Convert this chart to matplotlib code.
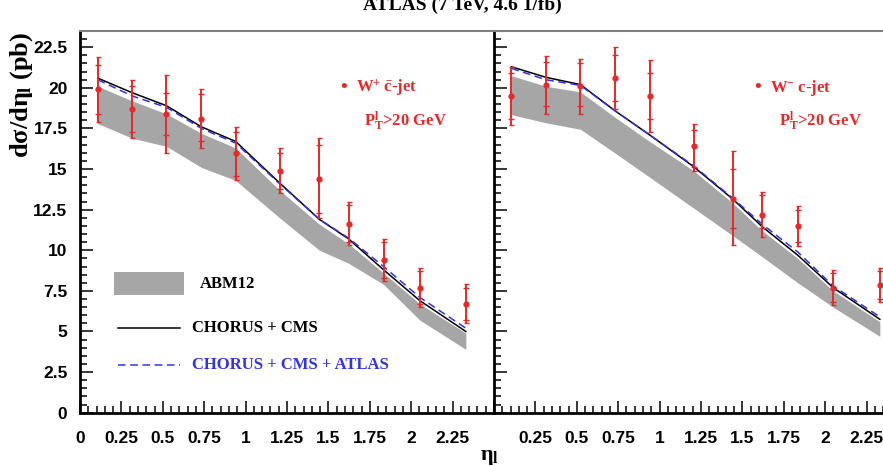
import matplotlib
matplotlib.use('Agg')
import matplotlib.pyplot as plt
from matplotlib.ticker import MultipleLocator, FuncFormatter
from matplotlib.patches import Rectangle
from matplotlib.lines import Line2D

plt.rcParams['mathtext.fontset'] = 'custom'
plt.rcParams['mathtext.rm'] = 'Liberation Serif:bold'
plt.rcParams['mathtext.it'] = 'Liberation Serif:bold'
plt.rcParams['mathtext.bf'] = 'Liberation Serif:bold'

# ---- data: W+ c-jet (left panel)
eta_p = [0.107, 0.315, 0.522, 0.733, 0.94, 1.205, 1.446, 1.622, 1.833, 2.052, 2.33]
data_p = [19.9, 18.7, 18.4, 18.1, 16.0, 14.9, 14.4, 11.6, 9.4, 7.7, 6.7]
tot_hi_p = [21.9, 20.5, 20.8, 19.9, 17.6, 16.3, 16.9, 13.0, 10.7, 8.9, 7.9]
tot_lo_p = [17.9, 16.9, 16.0, 16.3, 14.3, 13.5, 12.0, 10.3, 8.1, 6.5, 5.5]
stat_hi_p = [21.4, 20.1, 19.7, 19.6, 17.3, 16.0, 16.5, 12.8, 10.5, 8.7, 7.7]
stat_lo_p = [18.4, 17.3, 17.1, 16.7, 14.6, 13.8, 12.3, 10.5, 8.3, 6.7, 5.7]
cms_p = [20.6, 19.7, 18.9, 17.6, 16.7, 14.15, 11.9, 10.7, 8.8, 6.9, 5.0]
atlas_p = [20.5, 19.5, 18.8, 17.5, 16.6, 14.1, 11.9, 10.75, 9.0, 7.1, 5.2]
abm_hi_p = [20.1, 19.2, 18.4, 17.2, 16.3, 13.7, 11.6, 10.4, 8.6, 6.7, 4.9]
abm_lo_p = [17.8, 16.9, 16.4, 15.1, 14.3, 12.0, 10.0, 9.2, 7.9, 5.7, 3.9]

# ---- data: W- c-jet (right panel)
eta_m = [0.105, 0.313, 0.522, 0.729, 0.94, 1.205, 1.442, 1.62, 1.834, 2.048, 2.33]
data_m = [19.5, 20.2, 20.1, 20.6, 19.5, 16.4, 13.15, 12.2, 11.5, 7.7, 7.85]
tot_hi_m = [21.3, 21.95, 21.8, 22.5, 21.7, 17.75, 16.1, 13.6, 12.7, 8.8, 8.9]
tot_lo_m = [17.7, 18.4, 18.4, 18.7, 17.3, 14.9, 10.3, 10.8, 10.25, 6.6, 6.8]
stat_hi_m = [20.9, 21.6, 21.5, 22.0, 20.9, 17.4, 15.0, 13.4, 12.5, 8.6, 8.7]
stat_lo_m = [18.1, 18.9, 18.9, 19.2, 18.1, 15.1, 11.35, 11.35, 10.5, 6.8, 7.0]
cms_m = [21.3, 20.65, 20.2, 18.6, 17.1, 15.15, 13.15, 11.45, 9.7, 7.7, 5.75]
atlas_m = [21.2, 20.5, 20.15, 18.6, 17.1, 15.2, 13.2, 11.6, 9.9, 7.8, 5.9]
abm_hi_m = [20.75, 20.1, 19.75, 18.2, 16.7, 14.9, 12.9, 11.2, 9.5, 7.5, 5.6]
abm_lo_m = [18.35, 17.85, 17.45, 16.0, 14.5, 12.6, 10.9, 9.6, 8.0, 6.5, 4.7]

RED = '#e82828'
BLUE = '#3232e6'
GRAY = '#a6a6a6'

W, H = 883, 466
fig = plt.figure(figsize=(W / 100, H / 100), dpi=100)

x0, ybot, pw, ph = 80, 466 - 412.7, 414, 381.7
ax1 = fig.add_axes([x0 / W, ybot / H, pw / W, ph / H])
ax2 = fig.add_axes([(x0 + pw) / W, ybot / H, pw / W, ph / H])


def draw_panel(ax, eta, data, thi, tlo, shi, slo, cms, atlas, ahi, alo, left):
    ax.fill_between(eta, alo, ahi, color=GRAY, lw=0, zorder=1)
    ax.plot(eta, cms, color='black', lw=1.1, zorder=2)
    ax.plot(eta, atlas, color=BLUE, lw=1.1, ls=(0, (5, 3)), zorder=2)
    yerr = [[d - l for d, l in zip(data, tlo)], [h - d for d, h in zip(data, thi)]]
    ax.errorbar(eta, data, yerr=yerr, fmt='o', ms=3.5, color=RED, ecolor=RED,
                elinewidth=1.4, capsize=1.8, capthick=1.0, zorder=4)
    ax.plot(eta, shi, ls='none', marker='_', ms=4, mew=1.0, color=RED, zorder=4)
    ax.plot(eta, slo, ls='none', marker='_', ms=4, mew=1.0, color=RED, zorder=4)

    ax.set_xlim(0, 2.5)
    ax.set_ylim(0, 23.5)
    ax.xaxis.set_major_locator(MultipleLocator(0.25))
    ax.xaxis.set_minor_locator(MultipleLocator(0.05))
    ax.yaxis.set_major_locator(MultipleLocator(2.5))
    ax.yaxis.set_minor_locator(MultipleLocator(0.5))
    ax.tick_params(which='both', direction='in', top=False, right=False, width=1.1)
    ax.tick_params(which='major', length=9)
    ax.tick_params(which='minor', length=5)
    ax.tick_params(axis='x', pad=13)
    ax.tick_params(axis='y', pad=9)

    def fmt(v, pos):
        if abs(v) < 1e-9 and not left:
            return ''
        if abs(v - 2.5) < 1e-9:
            return ''
        return '%g' % round(v, 3)
    ax.xaxis.set_major_formatter(FuncFormatter(fmt))
    ax.yaxis.set_major_formatter(FuncFormatter(lambda v, p: '%g' % round(v, 3)))
    for lab in ax.get_xticklabels() + ax.get_yticklabels():
        lab.set_fontfamily('Liberation Sans')
        lab.set_fontweight('bold')
        lab.set_fontsize(12.5)

    ax.spines['left'].set_linewidth(2)
    ax.spines['bottom'].set_linewidth(2)
    ax.spines['top'].set_color('#808080')
    ax.spines['top'].set_linewidth(1.5)
    ax.spines['right'].set_visible(False)


draw_panel(ax1, eta_p, data_p, tot_hi_p, tot_lo_p, stat_hi_p, stat_lo_p,
           cms_p, atlas_p, abm_hi_p, abm_lo_p, True)
draw_panel(ax2, eta_m, data_m, tot_hi_m, tot_lo_m, stat_hi_m, stat_lo_m,
           cms_m, atlas_m, abm_hi_m, abm_lo_m, False)
ax2.set_yticklabels([])

serif = dict(family='Liberation Serif', weight='bold')

# legend (left panel)
ax1.add_patch(Rectangle((0.082, 0.308), 0.169, 0.061, transform=ax1.transAxes,
                        facecolor=GRAY, edgecolor='none', zorder=5))
ax1.text(0.29, 0.338, 'ABM12', transform=ax1.transAxes, va='center', fontsize=12, **serif)
ax1.add_line(Line2D([0.092, 0.242], [0.223, 0.223], transform=ax1.transAxes,
                    color='black', lw=1.1))
ax1.text(0.27, 0.223, 'CHORUS + CMS', transform=ax1.transAxes, va='center',
         fontsize=12, **serif)
ax1.add_line(Line2D([0.092, 0.242], [0.125, 0.125], transform=ax1.transAxes,
                    color=BLUE, lw=1.1, ls=(0, (5, 3))))
ax1.text(0.27, 0.125, 'CHORUS + CMS + ATLAS', transform=ax1.transAxes, va='center',
         fontsize=12, color=BLUE, **serif)

# channel labels
for ax, lab in [(ax1, r'W$^{+}$ $\bar{\rm c}$-jet'), (ax2, r'W$^{-}$ c-jet')]:
    if ax is ax1:
        dot_x, txt_x, pt_x = 343.3, 356, 364
    else:
        dot_x, txt_x, pt_x = 757.7, 770, 779
    fig.text(dot_x / W, 1 - 88 / H, '\u2022', color=RED, fontsize=14,
             ha='center', va='center', **serif)
    fig.text(txt_x / W, 1 - 88 / H, lab, color=RED, fontsize=12, va='center', **serif)
    fig.text(pt_x / W, 1 - 121 / H, r'P$_{\rm T}^{\rm l}$>20 GeV', color=RED,
             fontsize=12, va='center', **serif)

fig.text(462 / W, 1 - 10 / H, 'ATLAS (7 TeV, 4.6 1/fb)', ha='center', va='baseline',
         fontsize=14, **serif)
fig.text(22 / W, 1 - 32 / H, r'd$\sigma$/d$\eta_{\rm l}$ (pb)', rotation=90,
         ha='center', va='top', fontsize=19, **serif)
fig.text(480 / W, 1 - 447 / H, r'$\eta_{\rm l}$', ha='left', va='top', fontsize=16, **serif)

fig.savefig('out.png', dpi=100)
